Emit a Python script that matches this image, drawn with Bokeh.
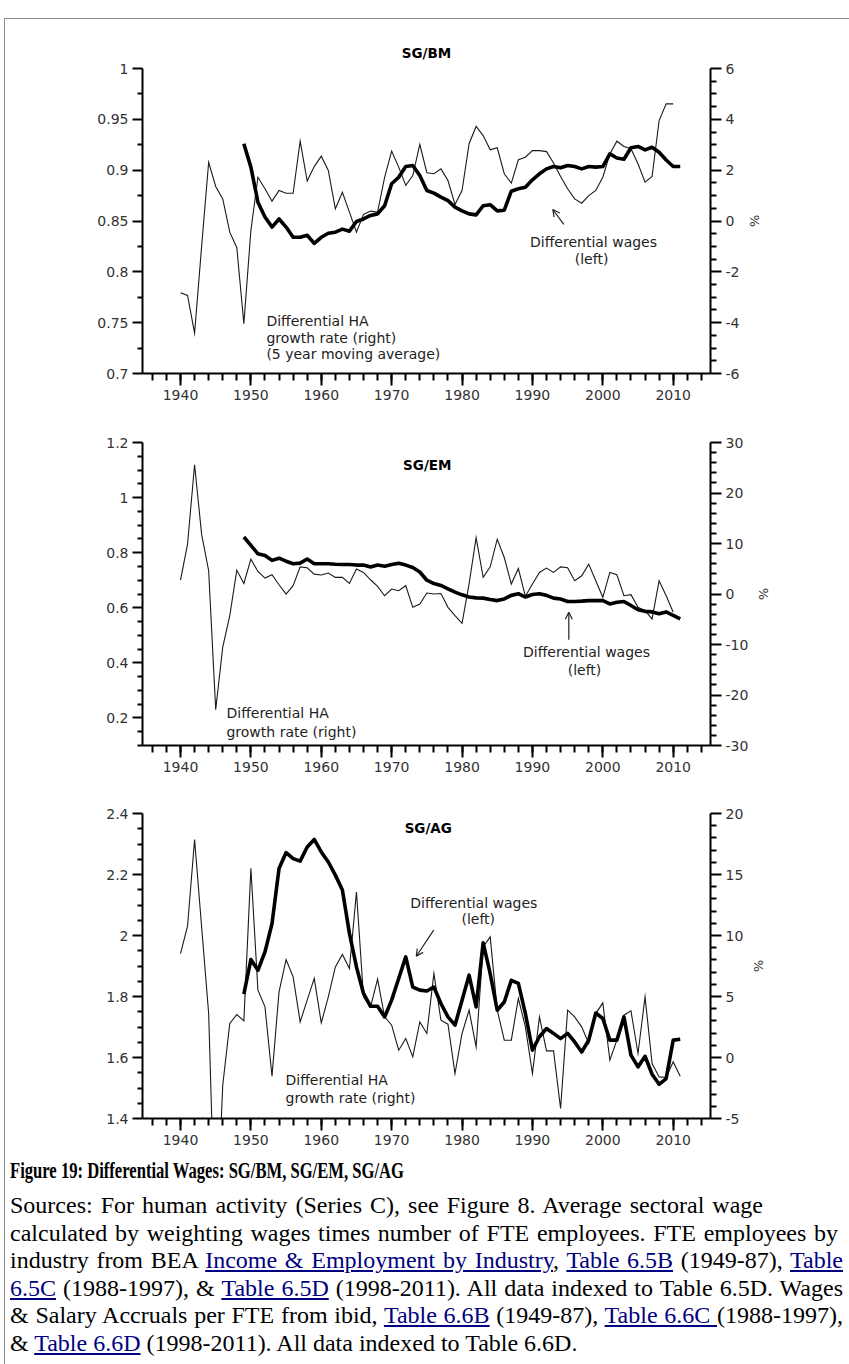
from bokeh.plotting import figure
from bokeh.models import (Range1d, LinearAxis, FixedTicker, CustomJSTickFormatter,
                          Label, Arrow, OpenHead, Div)
from bokeh.layouts import column
from bokeh.embed import file_html
from bokeh.resources import INLINE

# ---------------------------------------------------------------- data
# Differential HA growth rate (right axis, %), 1940 onward
bm_ha_years = list(range(1940, 2011))
bm_ha = [-2.82, -2.93, -4.41, -1.0, 2.31, 1.36, 0.87, -0.44, -1.05, -4.04,
         -0.37, 1.72, 1.27, 0.78, 1.20, 1.09, 1.09, 3.14, 1.57, 2.14,
         2.55, 1.99, 0.48, 1.13, 0.35, -0.44, 0.26, 0.39, 0.35, 1.72,
         2.75, 2.12, 1.40, 1.79, 3.01, 1.90, 1.86, 2.05, 1.59, 0.65,
         1.20, 3.04, 3.72, 3.36, 2.80, 2.88, 1.86, 1.49, 2.41, 2.51,
         2.77, 2.77, 2.73, 2.28, 1.75, 1.27, 0.87, 0.70, 1.00, 1.20,
         1.72, 2.64, 3.14, 2.93, 2.84, 2.25, 1.53, 1.75, 3.95, 4.61,
         4.61]
# Differential wages (left axis), 1949-2011
bm_wage_years = list(range(1949, 2012))
bm_wage = [0.926, 0.903, 0.8685, 0.854, 0.844, 0.852, 0.844, 0.834, 0.834, 0.836,
           0.828, 0.834, 0.838, 0.839, 0.842, 0.840, 0.8495, 0.852, 0.8555, 0.857,
           0.865, 0.8866, 0.893, 0.9036, 0.9046, 0.8948, 0.880, 0.8774, 0.8735, 0.870,
           0.8636, 0.860, 0.857, 0.856, 0.865, 0.866, 0.860, 0.8606, 0.8793, 0.8817,
           0.8833, 0.8905, 0.8964, 0.9013, 0.9036, 0.9023, 0.9046, 0.9036, 0.9013, 0.9036,
           0.903, 0.9036, 0.916, 0.912, 0.9107, 0.922, 0.9233, 0.920, 0.9226, 0.9177,
           0.910, 0.9036, 0.9036]

em_ha_years = list(range(1940, 2011))
em_ha = [2.76, 9.86, 25.6, 11.8, 4.6, -22.9, -10.5, -4.28, 4.73, 2.09,
         6.90, 4.46, 3.15, 3.81, 1.83, 0.0, 1.64, 5.38, 5.2, 3.94,
         3.75, 4.14, 3.29, 3.29, 2.09, 4.93, 4.27, 2.82, 1.5, -0.34,
         0.99, 0.66, 1.64, -2.64, -1.97, 0.2, 0.0, 0.1, -2.64, -4.28,
         -5.8, 2.0, 11.16, 3.29, 5.38, 10.85, 7.22, 1.97, 5.05, -0.47,
         1.97, 4.27, 5.13, 4.27, 5.38, 5.2, 2.62, 3.61, 5.92, 2.62,
         -0.66, 4.27, 3.81, -0.34, -0.14, -2.64, -3.29, -4.93, 2.62, -0.34,
         -3.63]
em_wage_years = list(range(1949, 2012))
em_wage = [0.857, 0.8266, 0.796, 0.79, 0.772, 0.78, 0.769, 0.76, 0.762, 0.777,
           0.76, 0.76, 0.76, 0.758, 0.757, 0.757, 0.755, 0.755, 0.748, 0.755,
           0.751, 0.757, 0.762, 0.755, 0.746, 0.73, 0.70, 0.688, 0.681, 0.669,
           0.657, 0.647, 0.639, 0.636, 0.635, 0.63, 0.626, 0.632, 0.645, 0.651,
           0.639, 0.648, 0.651, 0.645, 0.635, 0.632, 0.623, 0.623, 0.624, 0.626,
           0.626, 0.626, 0.614, 0.62, 0.623, 0.608, 0.593, 0.587, 0.585, 0.578,
           0.585, 0.572, 0.56]

ag_ha_years = list(range(1940, 2012))
ag_ha = [8.52, 10.76, 17.87, 10.7, 3.6, -16.0, -2.27, 2.79, 3.52, 3.0,
         15.5, 5.52, 4.15, -1.53, 5.38, 8.03, 6.61, 2.92, 4.7, 6.48,
         2.84, 4.97, 7.43, 8.44, 7.3, 13.57, 4.97, 4.15, 6.42, 3.33,
         2.65, 0.6, 1.56, 0.05, 2.92, 1.97, 6.89, 3.06, 2.73, -1.31,
         1.97, 3.88, 0.87, 9.07, 9.89, 3.88, 1.42, 1.42, 4.84, 2.51,
         -1.31, 3.33, 0.54, 0.54, -4.18, 3.88, 3.33, 2.51, 1.15, 3.6,
         4.48, -0.22, 1.42, 3.47, 3.82, 0.33, 4.97, -0.49, -1.59, -1.64,
         -0.36, -1.53]
ag_wage_years = list(range(1949, 2012))
ag_wage = [1.808, 1.921, 1.886, 1.946, 2.039, 2.22, 2.272, 2.252, 2.244, 2.29,
           2.315, 2.274, 2.241, 2.198, 2.149, 2.007, 1.897, 1.81, 1.768, 1.768,
           1.733, 1.788, 1.859, 1.93, 1.831, 1.821, 1.818, 1.831, 1.777, 1.733,
           1.706, 1.788, 1.87, 1.766, 1.976, 1.875, 1.755, 1.782, 1.853, 1.843,
           1.744, 1.624, 1.668, 1.695, 1.679, 1.662, 1.679, 1.651, 1.618, 1.657,
           1.746, 1.728, 1.657, 1.657, 1.733, 1.608, 1.569, 1.604, 1.545, 1.512,
           1.531, 1.657, 1.66]

# tick positions
year_ticks = [1940, 1950, 1960, 1970, 1980, 1990, 2000, 2010]
year_minor = list(range(1936, 2015, 2))

bm_left_ticks = [0.7, 0.75, 0.8, 0.85, 0.9, 0.95, 1.0]
bm_left_minor = [0.725, 0.775, 0.825, 0.875, 0.925, 0.975]
bm_right_ticks = [-6, -4, -2, 0, 2, 4, 6]
bm_right_minor = [-5.5, -5, -4.5, -3.5, -3, -2.5, -1.5, -1, -0.5, 0.5, 1, 1.5,
                  2.5, 3, 3.5, 4.5, 5, 5.5]

em_left_ticks = [0.2, 0.4, 0.6, 0.8, 1.0, 1.2]
em_left_minor = [0.1, 0.15, 0.25, 0.3, 0.35, 0.45, 0.5, 0.55, 0.65, 0.7, 0.75,
                 0.85, 0.9, 0.95, 1.05, 1.1, 1.15]
em_right_ticks = [-30, -20, -10, 0, 10, 20, 30]
em_right_minor = [-28, -26, -24, -22, -18, -16, -14, -12, -8, -6, -4, -2,
                  2, 4, 6, 8, 12, 14, 16, 18, 22, 24, 26, 28]

ag_left_ticks = [1.4, 1.6, 1.8, 2.0, 2.2, 2.4]
ag_left_minor = [1.45, 1.5, 1.55, 1.65, 1.7, 1.75, 1.85, 1.9, 1.95, 2.05, 2.1,
                 2.15, 2.25, 2.3, 2.35]
ag_right_ticks = [-5, 0, 5, 10, 15, 20]
ag_right_minor = [-4, -3, -2, -1, 1, 2, 3, 4, 6, 7, 8, 9, 11, 12, 13, 14,
                  16, 17, 18, 19]

# ---------------------------------------------------------------- styling
FONT = "DejaVu Sans"
TICK_COLOR = "#333333"
TEXT_COLOR = "#222222"
X_RANGE = (1934.6, 2015.3)
PAGE_W = 844          # content width inside the page border

fmt_code = "return String(Math.round(tick * 1000) / 1000);"


def style_axis(ax, ticks, minor, major_out=10, minor_out=5, standoff=4):
    ax.ticker = FixedTicker(ticks=ticks, minor_ticks=minor)
    ax.formatter = CustomJSTickFormatter(code=fmt_code)
    ax.axis_line_width = 2
    ax.axis_line_color = "black"
    ax.major_tick_line_width = 2
    ax.minor_tick_line_width = 2
    ax.major_tick_line_color = "black"
    ax.minor_tick_line_color = "black"
    ax.major_tick_in = 0
    ax.minor_tick_in = 0
    ax.major_tick_out = major_out
    ax.minor_tick_out = minor_out
    ax.major_label_text_font = FONT
    ax.major_label_text_font_size = "14px"
    ax.major_label_text_color = TICK_COLOR
    ax.major_label_standoff = standoff
    ax.axis_label_text_font = FONT
    ax.axis_label_text_font_size = "13px"
    ax.axis_label_text_font_style = "normal"
    ax.axis_label_text_color = TICK_COLOR
    ax.axis_label_standoff = 5


def make_panel(height, top, bottom, left_rng, right_rng,
               left_ticks, left_minor, right_ticks, right_minor,
               ha_years, ha, wage_years, wage):
    p = figure(width=PAGE_W, height=height, x_range=Range1d(*X_RANGE),
               y_range=Range1d(*left_rng), output_backend="svg",
               toolbar_location=None, min_border_left=137, min_border_right=139,
               min_border_top=top, min_border_bottom=bottom)
    p.extra_y_ranges = {"right": Range1d(*right_rng)}
    p.xgrid.visible = False
    p.ygrid.visible = False
    p.outline_line_color = None
    p.background_fill_color = "white"
    p.border_fill_color = "white"

    style_axis(p.xaxis[0], year_ticks, year_minor, major_out=12, minor_out=7,
               standoff=4)
    style_axis(p.yaxis[0], left_ticks, left_minor)
    right = LinearAxis(y_range_name="right", axis_label="%")
    style_axis(right, right_ticks, right_minor, major_out=11, minor_out=6)
    p.add_layout(right, "right")

    p.line(ha_years, ha, y_range_name="right", line_color="#1a1a1a",
           line_width=1.1, line_join="miter")
    p.line(wage_years, wage, line_color="black", line_width=3.6,
           line_join="round")
    return p


def text(p, x, y, s, align="left", bold=False, size="14px"):
    p.add_layout(Label(x=x, y=y, text=s, text_font=FONT, text_font_size=size,
                       text_color="black" if bold else TEXT_COLOR,
                       text_font_style="bold" if bold else "normal",
                       text_align=align, text_baseline="middle"))


def arrow(p, x0, y0, x1, y1):
    p.add_layout(Arrow(x_start=x0, y_start=y0, x_end=x1, y_end=y1,
                       line_color=TEXT_COLOR, line_width=1.2,
                       end=OpenHead(size=7, line_width=1.2,
                                    line_color=TEXT_COLOR)))


# ---------------------------------------------------------------- SG/BM
p1 = make_panel(391, 49, 37, (0.7, 1.0), (-6, 6),
                bm_left_ticks, bm_left_minor, bm_right_ticks, bm_right_minor,
                bm_ha_years, bm_ha, bm_wage_years, bm_wage)
p1.title.text = "SG/BM"
p1.title.align = "center"
p1.title.text_font = FONT
p1.title.text_font_size = "13.5px"
p1.title.text_font_style = "bold"
p1.title.text_color = "black"
p1.title.standoff = 15
text(p1, 1952.2, 0.7521, "Differential HA")
text(p1, 1952.2, 0.7354, "growth rate (right)")
text(p1, 1952.2, 0.7187, "(5 year moving average)")
text(p1, 1998.68, 0.8298, "Differential wages", align="center")
text(p1, 1998.4, 0.8131, "(left)", align="center")
arrow(p1, 1994.46, 0.8466, 1992.89, 0.8613)

# ---------------------------------------------------------------- SG/EM
p2 = make_panel(380, 32, 45, (0.1, 1.2), (-30, 30),
                em_left_ticks, em_left_minor, em_right_ticks, em_right_minor,
                em_ha_years, em_ha, em_wage_years, em_wage)
text(p2, 1975.06, 1.12, "SG/EM", align="center", bold=True, size="13.5px")
text(p2, 1946.53, 0.2167, "Differential HA")
text(p2, 1946.53, 0.15, "growth rate (right)")
text(p2, 1997.68, 0.4385, "Differential wages", align="center")
text(p2, 1997.4, 0.3745, "(left)", align="center")
arrow(p2, 1995.17, 0.4836, 1995.17, 0.584)

# ---------------------------------------------------------------- SG/AG
p3 = make_panel(360, 23, 32, (1.4, 2.4), (-5, 20),
                ag_left_ticks, ag_left_minor, ag_right_ticks, ag_right_minor,
                ag_ha_years, ag_ha, ag_wage_years, ag_wage)
text(p3, 1975.2, 2.351, "SG/AG", align="center", bold=True, size="13.5px")
text(p3, 1981.67, 2.107, "Differential wages", align="center")
text(p3, 1982.3, 2.0525, "(left)", align="center")
arrow(p3, 1975.97, 2.0174, 1973.5, 1.932)
text(p3, 1954.92, 1.5256, "Differential HA")
text(p3, 1954.92, 1.4675, "growth rate (right)")

# ---------------------------------------------------------------- caption
LINK = 'style="color:#000080;text-decoration:underline;"'


def a(s):
    return f'<a href="#" {LINK}>{s}</a>'


# (text, justified width in px or None for natural width)
body_lines = [
    ("Sources: For human activity (Series C), see Figure 8. Average sectoral wage", 753),
    ("calculated by weighting wages times number of FTE employees. FTE employees by", 828),
    (f"industry from BEA {a('Income &amp; Employment by Industry')}, {a('Table 6.5B')} (1949-87), {a('Table')}", 833),
    (f"{a('6.5C')} (1988-1997), &amp; {a('Table 6.5D')} (1998-2011). All data indexed to Table 6.5D. Wages", 833),
    (f"&amp; Salary Accruals per FTE from ibid, {a('Table 6.6B')} (1949-87), {a('Table 6.6C ')}(1988-1997),", 833),
    (f"&amp; {a('Table 6.6D')} (1998-2011). All data indexed to Table 6.6D.", None),
]
line_tops = [42.2, 70.2, 97.2, 125.2, 152.2, 180.2]

html = [f'<div style="position:relative;width:{PAGE_W}px;height:214px;'
        'font-family:\'Liberation Serif\';color:#000;">']
html.append('<div style="position:absolute;left:5px;top:4px;font-size:24px;'
            'line-height:32px;font-weight:bold;white-space:nowrap;'
            'transform:scaleX(0.692);transform-origin:0 0;">'
            'Figure 19: Differential Wages: SG/BM, SG/EM, SG/AG</div>')
for t, (s, w) in zip(line_tops, body_lines):
    just = (f"width:{w}px;text-align:justify;text-align-last:justify;"
            if w else "")
    html.append(f'<div style="position:absolute;left:5px;top:{t}px;font-size:24px;'
                f'line-height:27.6px;white-space:nowrap;{just}">{s}</div>')
html.append('</div>')
caption = Div(text="".join(html), width=PAGE_W, height=214,
              styles={"margin": "0", "padding": "0"})

layout = column(p1, p2, p3, caption, spacing=0,
                styles={"margin-top": "18px", "margin-left": "4px",
                        "border-left": "1px solid #8c8c8c",
                        "border-top": "1px solid #8c8c8c"})
open("out.html", "w").write(file_html(layout, INLINE))
